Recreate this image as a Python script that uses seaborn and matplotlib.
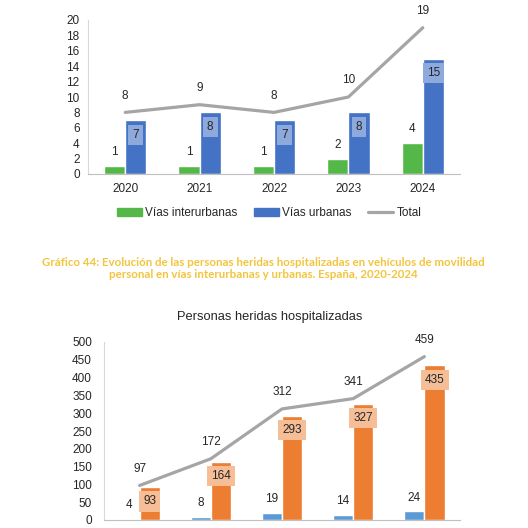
import numpy as np
import pandas as pd
import seaborn as sns
import matplotlib.pyplot as plt
from matplotlib.patches import Patch
from matplotlib.lines import Line2D

years = ['2020', '2021', '2022', '2023', '2024']
tipos = ['Vías interurbanas', 'Vías urbanas']

fall_inter = [1, 1, 1, 2, 4]
fall_urb = [7, 8, 7, 8, 15]
fall_total = [8, 9, 8, 10, 19]

hosp_inter = [4, 8, 19, 14, 24]
hosp_urb = [93, 164, 293, 327, 435]
hosp_total = [97, 172, 312, 341, 459]

sns.set_style('white')
plt.rcParams['font.family'] = ['Liberation Sans', 'DejaVu Sans']

W = 528.0
fig = plt.figure(figsize=(5.28, 5.28), dpi=100)


def to_long(inter, urb):
    return pd.DataFrame({
        'year': years * 2,
        'tipo': [tipos[0]] * len(years) + [tipos[1]] * len(years),
        'valor': list(inter) + list(urb),
    })


def dibujar(ax, inter, urb, total, colores, caja, ymax, paso, ypad, xlabels):
    df = to_long(inter, urb)
    sns.barplot(data=df, x='year', y='valor', hue='tipo', hue_order=tipos,
                palette=colores, width=0.57, gap=0, saturation=1,
                legend=False, ax=ax)
    sns.lineplot(x=np.arange(len(years)), y=total, color='#A5A5A5',
                 linewidth=2.3, ax=ax, legend=False)
    ax.set_ylim(0, ymax)
    ax.set_yticks(np.arange(0, ymax + paso, paso))
    ax.set_xlim(-0.5, len(years) - 0.5)
    ax.set_xlabel('')
    ax.set_ylabel('')
    ax.tick_params(axis='both', length=0, labelsize=8.5, colors='#262626')
    ax.tick_params(axis='y', pad=ypad)
    ax.tick_params(axis='x', pad=6.5)
    if not xlabels:
        ax.set_xticklabels([])
    for s in ['top', 'right']:
        ax.spines[s].set_visible(False)
    ax.spines['left'].set_color('#D9D9D9')
    ax.spines['bottom'].set_color('#BFBFBF')
    # etiquetas
    for b, v in zip(ax.containers[0], inter):
        ax.annotate(str(v), (b.get_x() + b.get_width() / 2, b.get_height()),
                    xytext=(0, 10), textcoords='offset points', ha='center',
                    va='center', fontsize=8.5, color='#262626')
    for b, v in zip(ax.containers[1], urb):
        ax.annotate(str(v), (b.get_x() + b.get_width() / 2, b.get_height()),
                    xytext=(0, -10.5), textcoords='offset points', ha='center',
                    va='center', fontsize=8.5, color='#262626',
                    bbox=dict(boxstyle='square,pad=0.35', fc=caja, ec='none'))
    for i, v in enumerate(total):
        ax.annotate(str(v), (i, v), xytext=(0, 12), textcoords='offset points',
                    ha='center', va='center', fontsize=8.5, color='#262626')


# Personas fallecidas
ax1 = fig.add_axes([88 / W, 354 / W, 372 / W, 154 / W])
dibujar(ax1, fall_inter, fall_urb, fall_total, ['#54B848', '#4472C4'],
        '#8EA9DB', 20, 2, 6, True)
fig.text(265 / W, 1 - (-3) / W, 'Personas fallecidas', ha='center',
         va='center', fontsize=9.3, color='#262626')

handles = [Patch(color='#54B848'), Patch(color='#4472C4'),
           Line2D([], [], color='#A5A5A5', linewidth=2.3)]
fig.legend(handles, tipos + ['Total'], loc='center',
           bbox_to_anchor=(269 / W, 1 - 213 / W), ncol=3, frameon=False,
           fontsize=8.5, handlelength=2.1, handleheight=0.6,
           handletextpad=0.3, columnspacing=1.4)

# Pie del gráfico
fig.text(263 / W, 1 - 262 / W,
         'Gráfico 44: Evolución de las personas heridas hospitalizadas en vehículos de movilidad',
         ha='center', va='center', fontsize=8.3, fontweight='bold',
         family=['Lato', 'DejaVu Sans'], color='#F2C53D')
fig.text(263 / W, 1 - 274 / W,
         'personal en vías interurbanas y urbanas. España, 2020-2024',
         ha='center', va='center', fontsize=8.3, fontweight='bold',
         family=['Lato', 'DejaVu Sans'], color='#F2C53D')

# Personas heridas hospitalizadas
ax2 = fig.add_axes([104 / W, 8 / W, 356 / W, 178 / W])
dibujar(ax2, hosp_inter, hosp_urb, hosp_total, ['#5B9BD5', '#ED7D31'],
        '#F6BE96', 500, 50, 8.6, False)
fig.text(270 / W, 1 - 317 / W, 'Personas heridas hospitalizadas', ha='center',
         va='center', fontsize=9.3, color='#262626')

fig.savefig('out.png', dpi=100)
plt.close()
